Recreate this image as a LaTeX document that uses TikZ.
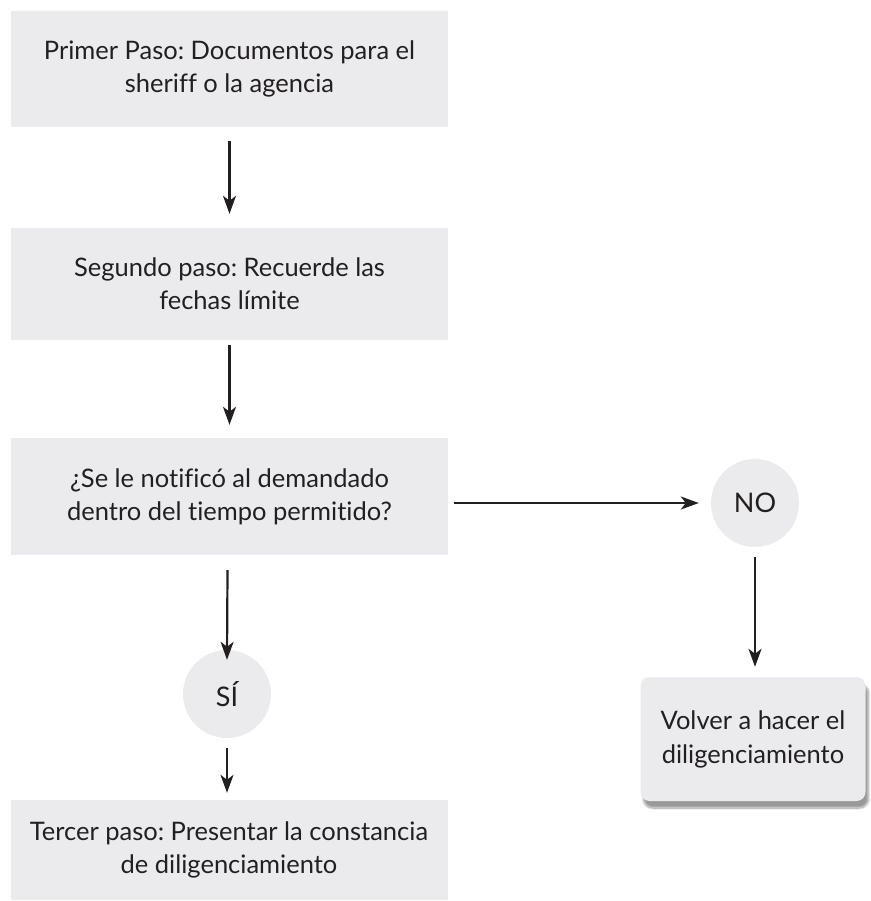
\documentclass[tikz,border=0pt]{standalone}
\usepackage{fontspec}
\setmainfont{Lato}[Ligatures=NoCommon]
\frenchspacing
\usetikzlibrary{arrows.meta,shadows.blur}
\definecolor{boxgray}{HTML}{EBEBED}
\definecolor{inkgray}{HTML}{231F20}
\tikzset{
  stepbox/.style={fill=boxgray, draw=none, minimum width=437pt, align=center,
    font=\fontsize{25.5}{33}\selectfont, text=inkgray, inner sep=0pt},
  answer/.style={circle, fill=boxgray, draw=none, minimum size=88pt, inner sep=0pt,
    font=\fontsize{27}{32}\selectfont, text=inkgray},
  redobox/.style={fill=boxgray, draw=none, rounded corners=9pt, minimum width=225pt,
    minimum height=124pt, align=center, font=\fontsize{25.5}{34}\selectfont, text=inkgray,
    blur shadow={shadow xshift=3pt, shadow yshift=-7pt, shadow blur steps=10, shadow opacity=40}},
  flow/.style={draw=inkgray, line width=2.2pt, -{Stealth[length=18pt,width=13pt,inset=5pt]}}
}
\begin{document}
\begin{tikzpicture}[x=1pt,y=-1pt]
  \useasboundingbox (0,0) rectangle (870,901);
  \node[stepbox, minimum height=116pt] (s1) at (229.5,69)
    {Primer Paso: Documentos para el\\sheriff o la agencia};
  \node[stepbox, minimum height=112pt] (s2) at (229.5,284)
    {Segundo paso: Recuerde las\\fechas límite};
  \node[stepbox, minimum height=117pt] (s3) at (229.5,496.5)
    {¿Se le notificó al demandado\\dentro del tiempo permitido?};
  \node[answer] (no) at (755,503) {NO};
  \node[answer] (si) at (227,694) {SÍ};
  \node[redobox] (redo) at (753,739) {Volver a hacer el\\diligenciamiento};
  \node[stepbox, minimum height=100pt] (s4) at (229,850)
    {Tercer paso: Presentar la constancia\\de diligenciamiento};

  \draw[flow] ([yshift=-14pt]s1.south) -- ([yshift=14pt]s2.north);
  \draw[flow] ([yshift=-5pt]s2.south) -- ([yshift=13pt]s3.north);
  \draw[flow] ([xshift=6pt]s3.east |- no.west) -- ([xshift=-12pt]no.west);
  \draw[flow] ([yshift=-10pt]no.south) -- ([yshift=10pt]no.south |- redo.north);
  \draw[flow] ([xshift=-2pt,yshift=-15pt]s3.south) -- ([yshift=-10pt]si.north);
  \draw[flow] ([yshift=-10pt]si.south) -- ([yshift=7pt]si.south |- s4.north);
\end{tikzpicture}
\end{document}
